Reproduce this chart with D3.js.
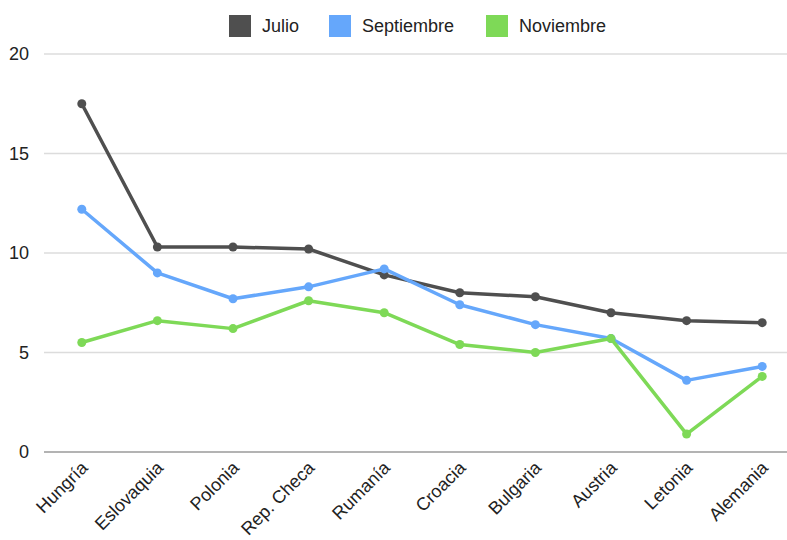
<!DOCTYPE html>
<html>
<head>
<meta charset="utf-8">
<script src="https://cdn.jsdelivr.net/npm/d3@7"></script>
<style>
  body { margin: 0; background: #fff; }
  text { font-family: "Liberation Sans", Arial, sans-serif; fill: #222; }
</style>
</head>
<body>
<svg id="chart" width="787" height="540"></svg>
<script>
const paises = ["Hungría", "Eslovaquia", "Polonia", "Rep. Checa", "Rumanía", "Croacia", "Bulgaria", "Austria", "Letonia", "Alemania"];
const julio = [17.5, 10.3, 10.3, 10.2, 8.9, 8.0, 7.8, 7.0, 6.6, 6.5];
const septiembre = [12.2, 9.0, 7.7, 8.3, 9.2, 7.4, 6.4, 5.7, 3.6, 4.3];
const noviembre = [5.5, 6.6, 6.2, 7.6, 7.0, 5.4, 5.0, 5.7, 0.9, 3.8];
const yTicks = [0, 5, 10, 15, 20];

const series = [
  {name: "Julio", values: julio, color: "#4f4f4f"},
  {name: "Septiembre", values: septiembre, color: "#65a7fb"},
  {name: "Noviembre", values: noviembre, color: "#7ed957"}
];

const svg = d3.select("#chart");
const plotLeft = 44, plotRight = 800, plotTop = 54, plotBottom = 452;

const x = d3.scaleBand().domain(paises).range([plotLeft, plotRight]);
const y = d3.scaleLinear().domain([0, 20]).range([plotBottom, plotTop]);

// grid
svg.append("g")
  .selectAll("line")
  .data(yTicks)
  .join("line")
  .attr("x1", plotLeft).attr("x2", plotRight)
  .attr("y1", d => y(d)).attr("y2", d => y(d))
  .attr("stroke", d => d === 0 ? "#9a9a9a" : "#dcdcdc")
  .attr("stroke-width", 1.5);

// y labels
svg.append("g")
  .selectAll("text")
  .data(yTicks)
  .join("text")
  .attr("x", 29)
  .attr("y", d => y(d))
  .attr("dy", "0.36em")
  .attr("text-anchor", "end")
  .attr("font-size", 18)
  .text(d => d);

// x labels
svg.append("g")
  .selectAll("text")
  .data(paises)
  .join("text")
  .attr("transform", d => "translate(" + (x(d) + x.bandwidth() / 2 + 7) + ",469) rotate(-45)")
  .attr("text-anchor", "end")
  .attr("font-size", 18)
  .text(d => d);

const line = d3.line()
  .x((d, i) => x(paises[i]) + x.bandwidth() / 2)
  .y(d => y(d));

const g = svg.append("g")
  .selectAll("g")
  .data(series)
  .join("g");

g.append("path")
  .attr("d", d => line(d.values))
  .attr("fill", "none")
  .attr("stroke", d => d.color)
  .attr("stroke-width", 3.5)
  .attr("stroke-linejoin", "round");

g.selectAll("circle")
  .data(d => d.values.map((v, i) => ({v, i, color: d.color})))
  .join("circle")
  .attr("cx", d => x(paises[d.i]) + x.bandwidth() / 2)
  .attr("cy", d => y(d.v))
  .attr("r", 4.5)
  .attr("fill", d => d.color);

// legend
const legendX = [229, 329, 486];
const legend = svg.append("g")
  .selectAll("g")
  .data(series)
  .join("g")
  .attr("transform", (d, i) => "translate(" + legendX[i] + ",15)");
legend.append("rect")
  .attr("width", 22).attr("height", 22)
  .attr("fill", d => d.color);
legend.append("text")
  .attr("x", 33).attr("y", 11).attr("dy", "0.36em")
  .attr("font-size", 18)
  .text(d => d.name);
</script>
</body>
</html>
